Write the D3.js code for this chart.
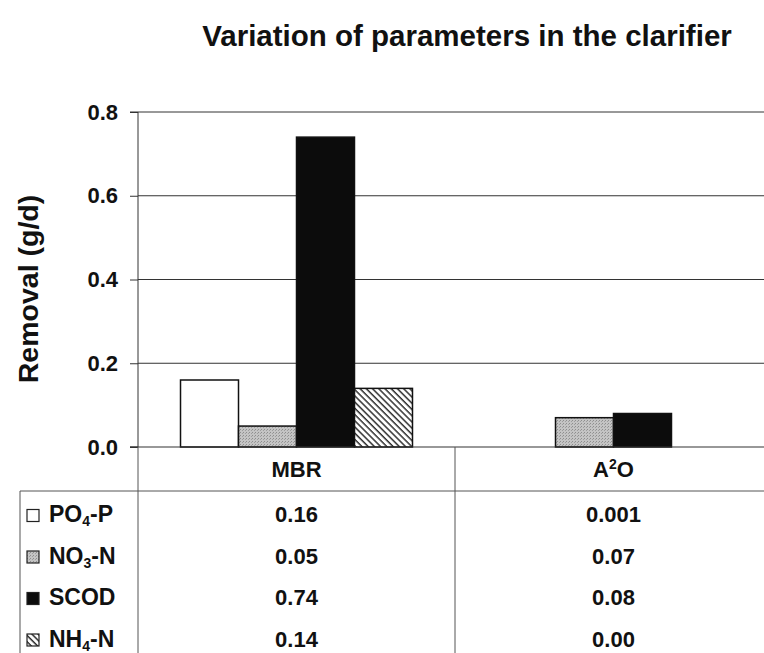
<!DOCTYPE html>
<html>
<head>
<meta charset="utf-8">
<script src="https://cdn.jsdelivr.net/npm/d3@7"></script>
<style>
  html, body { margin: 0; padding: 0; background: #fff; }
  svg { display: block; font-family: "Liberation Sans", Arial, sans-serif; }
</style>
</head>
<body>
<svg id="chart" width="764" height="653"></svg>
<script>
// Removal of each parameter in the clarifier, per process (g/d)
const categories = ["MBR", "A2O"];
const seriesNames = ["PO4-P", "NO3-N", "SCOD", "NH4-N"];
const mbrValues = [0.16, 0.05, 0.74, 0.14];
const a2oValues = [0.001, 0.07, 0.08, 0.00];
const mbrLabels = ["0.16", "0.05", "0.74", "0.14"];
const a2oLabels = ["0.001", "0.07", "0.08", "0.00"];
const yTicks = [0, 0.2, 0.4, 0.6, 0.8];

const valuesByCat = { "MBR": mbrValues, "A2O": a2oValues };
const labelsByCat = { "MBR": mbrLabels, "A2O": a2oLabels };

const svg = d3.select("#chart");
const W = 764, H = 653;
const plot = { left: 138, top: 112, right: 772, bottom: 447 };
const ink = "#111";
const FS = 22;

const defs = svg.append("defs");
// stippled grey fill
const stip = defs.append("pattern").attr("id", "stipple")
  .attr("patternUnits", "userSpaceOnUse").attr("width", 3).attr("height", 3);
stip.append("rect").attr("width", 3).attr("height", 3).attr("fill", "#c4c4c4");
stip.append("rect").attr("x", 0).attr("y", 0).attr("width", 1).attr("height", 1).attr("fill", "#8e8e8e");
stip.append("rect").attr("x", 2).attr("y", 1).attr("width", 1).attr("height", 1).attr("fill", "#9e9e9e");
// diagonal hatch
const hatch = defs.append("pattern").attr("id", "hatch")
  .attr("patternUnits", "userSpaceOnUse").attr("width", 4.4).attr("height", 4.4)
  .attr("patternTransform", "rotate(-45)");
hatch.append("rect").attr("width", 4.4).attr("height", 4.4).attr("fill", "#fff");
hatch.append("line").attr("x1", 1).attr("y1", 0).attr("x2", 1).attr("y2", 4.4)
  .attr("stroke", "#111").attr("stroke-width", 1.3);

const fills = { "PO4-P": "#ffffff", "NO3-N": "url(#stipple)", "SCOD": "#0c0c0c", "NH4-N": "url(#hatch)" };

const x0 = d3.scaleBand().domain(categories).range([plot.left, plot.right]).paddingInner(0).paddingOuter(0);
const x1 = d3.scaleBand().domain(seriesNames).range([0, x0.bandwidth()]).paddingInner(0).paddingOuter(0.733);
const y = d3.scaleLinear().domain([0, 0.8]).range([plot.bottom, plot.top]);

// title
svg.append("text").attr("x", 467).attr("y", 46).attr("text-anchor", "middle")
  .attr("font-size", 29.5).attr("font-weight", "bold").attr("fill", ink)
  .text("Variation of parameters in the clarifier");

// gridlines
svg.append("g").selectAll("line").data(yTicks.filter(d => d > 0)).join("line")
  .attr("x1", plot.left).attr("x2", W)
  .attr("y1", d => y(d)).attr("y2", d => y(d))
  .attr("stroke", "#333").attr("stroke-width", 1);

// y axis
const yAxis = d3.axisLeft(y).tickValues(yTicks).tickFormat(d3.format(".1f")).tickSize(8).tickPadding(12);
const ga = svg.append("g").attr("transform", `translate(${plot.left},0)`).call(yAxis);
ga.select(".domain").attr("stroke", "#333").attr("d", `M-8,${plot.top}H0V${plot.bottom}H-8`);
ga.selectAll(".tick line").attr("stroke", "#333");
ga.selectAll(".tick text").attr("font-size", FS).attr("font-weight", "bold").attr("fill", ink)
  .attr("font-family", "'Liberation Sans', Arial, sans-serif");

// y axis title
svg.append("text").attr("transform", `translate(38,289) rotate(-90)`)
  .attr("text-anchor", "middle").attr("font-size", 28.5).attr("font-weight", "bold").attr("fill", ink)
  .text("Removal (g/d)");

// bars
const groups = svg.append("g").selectAll("g").data(categories).join("g")
  .attr("transform", c => `translate(${x0(c)},0)`);
groups.selectAll("rect")
  .data(c => seriesNames.map((s, i) => ({ s, v: valuesByCat[c][i] })))
  .join("rect")
  .attr("x", d => x1(d.s))
  .attr("width", x1.bandwidth())
  .attr("y", d => y(d.v))
  .attr("height", d => y(0) - y(d.v))
  .attr("fill", d => fills[d.s])
  .attr("stroke", d => d.v > 0.005 ? "#111" : "none")
  .attr("stroke-width", 1.5);

// x axis baseline
svg.append("line").attr("x1", plot.left - 8).attr("x2", W).attr("y1", plot.bottom).attr("y2", plot.bottom)
  .attr("stroke", "#333").attr("stroke-width", 1.2);

// data table
const tableTop = 491;
const lineCol = "#555";
svg.append("line").attr("x1", 20).attr("x2", W).attr("y1", tableTop).attr("y2", tableTop)
  .attr("stroke", lineCol);
svg.append("line").attr("x1", 20).attr("x2", 20).attr("y1", tableTop).attr("y2", H)
  .attr("stroke", lineCol);
svg.append("g").selectAll("line").data(categories).join("line")
  .attr("x1", c => x0(c)).attr("x2", c => x0(c))
  .attr("y1", plot.bottom).attr("y2", H).attr("stroke", lineCol);

// category headers
const catText = svg.append("g").selectAll("text").data(categories).join("text")
  .attr("x", c => x0(c) + x0.bandwidth() / 2).attr("y", 477)
  .attr("text-anchor", "middle").attr("font-size", FS).attr("font-weight", "bold").attr("fill", ink);
catText.each(function (c) {
  const t = d3.select(this);
  if (c === "A2O") {
    t.append("tspan").text("A");
    t.append("tspan").attr("dy", -8).attr("font-size", 14).text("2");
    t.append("tspan").attr("dy", 8).text("O");
  } else {
    t.text(c);
  }
});

// legend keys with subscripted names
const legendParts = {
  "PO4-P": ["PO", "4", "-P"],
  "NO3-N": ["NO", "3", "-N"],
  "SCOD": ["SCOD", "", ""],
  "NH4-N": ["NH", "4", "-N"]
};
const rowBase = [522, 563.5, 605, 646.5];
const legend = svg.append("g").selectAll("g").data(seriesNames).join("g");
legend.append("rect")
  .attr("x", 27).attr("y", (d, i) => rowBase[i] - 12.5).attr("width", 12).attr("height", 12)
  .attr("fill", d => fills[d]).attr("stroke", "#222").attr("stroke-width", 1.2);
legend.append("text").attr("x", 49).attr("y", (d, i) => rowBase[i])
  .attr("font-size", 23).attr("font-weight", "bold").attr("fill", ink)
  .each(function (d) {
    const p = legendParts[d];
    const t = d3.select(this);
    t.append("tspan").text(p[0]);
    if (p[1]) {
      t.append("tspan").attr("dy", 4).attr("font-size", 14).text(p[1]);
      t.append("tspan").attr("dy", -4).text(p[2]);
    }
  });

// table values
categories.forEach(c => {
  svg.append("g").selectAll("text").data(labelsByCat[c]).join("text")
    .attr("x", x0(c) + x0.bandwidth() / 2).attr("y", (d, i) => rowBase[i])
    .attr("text-anchor", "middle").attr("font-size", FS).attr("font-weight", "bold").attr("fill", ink)
    .text(d => d);
});
</script>
</body>
</html>
